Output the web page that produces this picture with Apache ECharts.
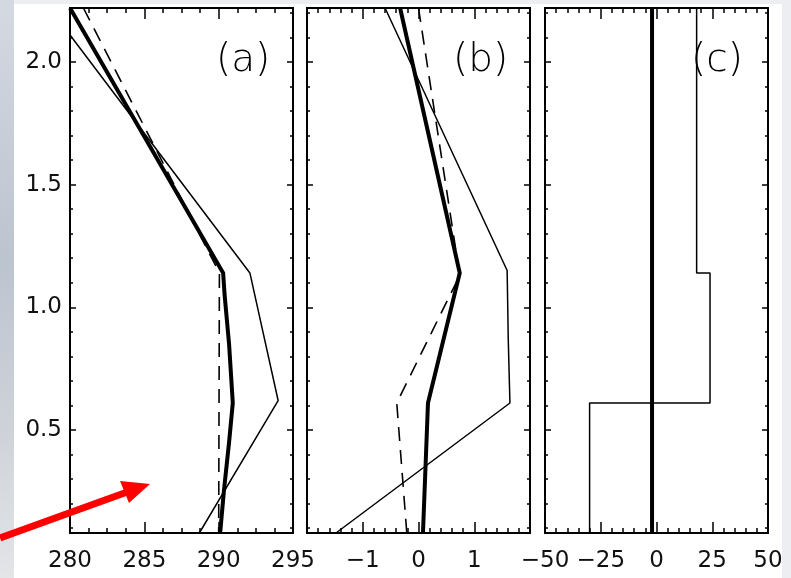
<!DOCTYPE html>
<html>
<head>
<meta charset="utf-8">
<script src="https://cdn.jsdelivr.net/npm/echarts@6/dist/echarts.min.js"></script>
<style>
  html, body { margin: 0; padding: 0; }
  #chart {
    width: 791px;
    height: 578px;
    background:
      linear-gradient(#fff, #fff) 14px 4px / 768px 574px no-repeat,
      linear-gradient(180deg, #d4d9e1, #bcc4d0 45%, #cfd3d9 75%, #e3e5e7) 0 0 / 14px 578px no-repeat,
      #eceef1;
  }
</style>
</head>
<body>
<div id="chart"></div>
<script>
// height axis, shared by the three panels
const yMin = 0.08
const yMax = 2.22
const yMajor = [0.5, 1.0, 1.5, 2.0]
const yMinor = [0.1, 0.2, 0.3, 0.4, 0.6, 0.7, 0.8, 0.9, 1.1, 1.2, 1.3, 1.4, 1.6, 1.7, 1.8, 1.9, 2.1, 2.2]

// panel (a)
const aTicks = [280, 285, 290, 295]
const aThick = [[280.0, 2.22], [290.3, 1.14], [290.4, 1.05], [290.7, 0.85], [290.95, 0.61], [290.7, 0.45], [290.35, 0.25], [290.1, 0.08]]
const aThin = [[280.0, 2.11], [292.1, 1.14], [294.0, 0.62], [288.7, 0.08]]
const aDash = [[280.9, 2.22], [290.05, 1.14], [290.0, 0.08]]

// panel (b)
const bTicks = [-1, 0, 1]
const bThick = [[-0.33, 2.22], [0.74, 1.14], [0.17, 0.61], [0.08, 0.08]]
const bThin = [[-0.6, 2.22], [1.59, 1.15], [1.61, 0.87], [1.64, 0.61], [-1.48, 0.08]]
const bDash = [[0.0, 2.22], [0.74, 1.13], [-0.39, 0.61], [-0.21, 0.08]]

// panel (c)
const cTicks = [-50, -25, 0, 25, 50]
const cThick = [[-2, 0.08], [-2, 2.22]]
const cThin = [[18, 2.22], [18, 1.14], [24, 1.14], [24, 0.61], [-30, 0.61], [-30, 0.08]]

const panels = [
  { name: '(a)', left: 70, min: 280, max: 295, interval: 5, minor: 4, ticks: aTicks, lines: { thick: aThick, thin: aThin, dash: aDash } },
  { name: '(b)', left: 307, min: -2, max: 2, interval: 1, minor: 5, ticks: bTicks, lines: { thick: bThick, thin: bThin, dash: bDash } },
  { name: '(c)', left: 545, min: -50, max: 50, interval: 25, minor: 5, ticks: cTicks, lines: { thick: cThick, thin: cThin } }
]

const FONT = 'DejaVu Sans'
const fmt = v => (v < 0 ? '\u2212' + Math.abs(v) : String(v))

const lineStyles = {
  thick: { width: 4, type: 'solid' },
  thin: { width: 1.5, type: 'solid' },
  dash: { width: 1.6, type: [14, 9] }
}

const grids = []
const xAxes = []
const yAxes = []
const series = []
const graphics = []

panels.forEach((p, i) => {
  grids.push({ left: p.left, top: 8, width: 223, height: 525 })

  const xBase = {
    gridIndex: i,
    type: 'value',
    min: p.min,
    max: p.max,
    interval: p.interval,
    axisLine: { show: true, onZero: false, lineStyle: { color: '#000', width: 2 } },
    axisTick: { show: true, inside: true, length: 11, lineStyle: { color: '#000', width: 1.5 } },
    minorTick: { show: true, splitNumber: p.minor, length: 5, lineStyle: { color: '#000', width: 1.5 } },
    splitLine: { show: false },
    minorSplitLine: { show: false }
  }
  xAxes.push(Object.assign({}, xBase, {
    position: 'bottom',
    axisLabel: {
      show: true,
      customValues: p.ticks,
      formatter: fmt,
      margin: 17,
      color: '#111',
      fontFamily: FONT,
      fontSize: 23
    }
  }))
  xAxes.push(Object.assign({}, xBase, { position: 'top', axisLabel: { show: false } }))

  const yBase = (pos, values, len, labels) => ({
    gridIndex: i,
    type: 'value',
    position: pos,
    min: yMin,
    max: yMax,
    axisLine: { show: true, onZero: false, lineStyle: { color: '#000', width: 2 } },
    axisTick: { show: true, inside: true, length: len, customValues: values, lineStyle: { color: '#000', width: 1.5 } },
    axisLabel: labels
      ? { show: true, customValues: values, formatter: v => v.toFixed(1), margin: 8, color: '#111', fontFamily: FONT, fontSize: 23 }
      : { show: false },
    splitLine: { show: false }
  })
  yAxes.push(yBase('left', yMajor, 6, i === 0))
  yAxes.push(yBase('left', yMinor, 3, false))
  yAxes.push(yBase('right', yMajor, 6, false))
  yAxes.push(yBase('right', yMinor, 3, false))

  Object.keys(p.lines).forEach(kind => {
    series.push({
      type: 'line',
      xAxisIndex: i * 2,
      yAxisIndex: i * 4,
      data: p.lines[kind],
      symbol: 'none',
      silent: true,
      clip: true,
      lineStyle: Object.assign({ color: '#000' }, lineStyles[kind]),
      z: kind === 'thick' ? 3 : 2
    })
  })

  graphics.push({
    type: 'text',
    left: p.left + 146,
    top: 41,
    style: { text: p.name, fontSize: 39, fontFamily: FONT, fontWeight: 200, fill: '#000' }
  })
})

// red pointer arrow
graphics.push({
  type: 'line',
  shape: { x1: 0, y1: 538, x2: 130, y2: 491 },
  style: { stroke: '#ff0000', lineWidth: 7 },
  z: 10
})
graphics.push({
  type: 'polygon',
  shape: { points: [[150, 484], [120, 481], [129, 503]] },
  style: { fill: '#ff0000' },
  z: 10
})

const chart = echarts.init(document.getElementById('chart'), null, { renderer: 'canvas' })
chart.setOption({
  backgroundColor: 'transparent',
  animation: false,
  grid: grids,
  xAxis: xAxes,
  yAxis: yAxes,
  series,
  graphic: graphics
})
</script>
</body>
</html>
